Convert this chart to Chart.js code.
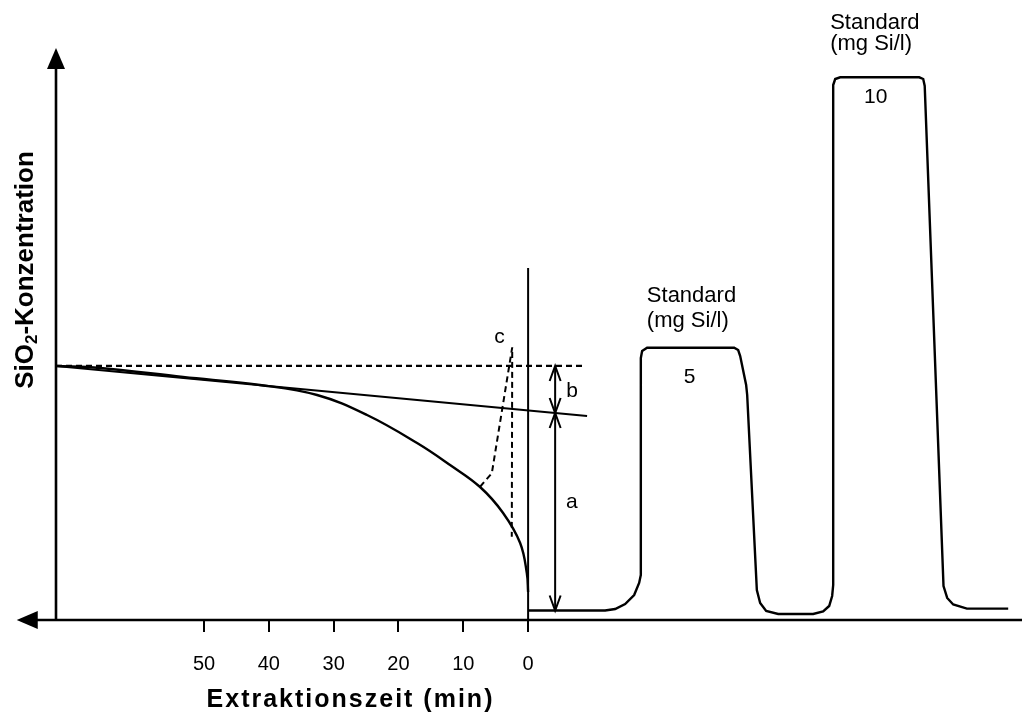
<!DOCTYPE html>
<html>
<head>
<meta charset="utf-8">
<script src="https://cdn.jsdelivr.net/npm/chart.js@4.4.1/dist/chart.umd.min.js"></script>
<style>
  html, body { margin: 0; padding: 0; background: #fff; }
</style>
</head>
<body>
<canvas id="chart" width="1025" height="716"></canvas>
<script>
// x = minutes before end of extraction (axis runs right-to-left), right of 0 = standards run
const xTicks = [0, 10, 20, 30, 40, 50];
const xLeftEnd = 78.9;   // where the left-pointing axis arrow ends

// extraction curve (relative SiO2 concentration)
const extraction = [
  [72.84, 44.41], [66.05, 44.06], [53.24, 42.48], [41.36, 41.08], [32.56, 39.34],
  [24.85, 35.84], [17.13, 30.94], [12.04, 27.10], [7.41, 23.25], [3.86, 18.71],
  [1.23, 13.46], [0.2, 8.2], [0, 4.9]
];
const tangent = [[72.84, 44.41], [-9.1, 35.66]];
const startLevel = [[72.84, 44.41], [-8.6, 44.41]];
const endLine = [[0, 0], [0, 61.54]];
const curveC = [[7.41, 23.3], [5.6, 25.64], [2.45, 47.67], [2.52, 14.56]];
const arrowB = [[-4.17, 44.41], [-4.17, 36.19]];
const arrowA = [[-4.17, 36.19], [-4.17, 1.66]];

// standards 5 and 10 mg Si/l
const standards = [
  [0, 1.66], [-11.88, 1.66], [-13.43, 1.92], [-14.97, 2.80], [-16.36, 4.37],
  [-17.13, 6.47], [-17.39, 7.87], [-17.39, 45.80], [-17.59, 47.03], [-18.36, 47.60],
  [-31.79, 47.60], [-32.41, 47.20], [-32.72, 46.15], [-33.64, 41.08], [-33.80, 39.34],
  [-35.29, 5.24], [-35.80, 2.97], [-36.73, 1.57], [-38.58, 1.05], [-43.98, 1.05],
  [-45.52, 1.49], [-46.45, 2.45], [-46.91, 4.20], [-47.07, 6.12], [-47.07, 93.53],
  [-47.38, 94.58], [-48.15, 94.88], [-60.34, 94.88], [-60.96, 94.58], [-61.19, 93.36],
  [-64.09, 5.94], [-64.66, 3.85], [-65.59, 2.71], [-67.70, 1.99], [-74.07, 1.99]
];

const notes = [
  { text: 'Standard', x: -18.32, y: 55.66, size: 22, align: 'left' },
  { text: '(mg Si/l)', x: -18.32, y: 51.28, size: 22, align: 'left' },
  { text: 'Standard', x: -46.6, y: 103.27, size: 22, align: 'left' },
  { text: '(mg Si/l)', x: -46.6, y: 99.65, size: 22, align: 'left' },
  { text: '5', x: -24.92, y: 41.43, size: 21, align: 'center' },
  { text: '10', x: -53.63, y: 90.33, size: 21, align: 'center' },
  { text: 'a', x: -6.74, y: 19.58, size: 21, align: 'center' },
  { text: 'b', x: -6.79, y: 38.99, size: 21, align: 'center' },
  { text: 'c', x: 4.40, y: 48.43, size: 21, align: 'center' }
];

const FONT = "'Liberation Sans', Arial, sans-serif";
const pts = arr => arr.map(([x, y]) => ({ x, y }));

function line(data, width, dash) {
  return {
    data: pts(data),
    showLine: true,
    borderColor: '#000',
    borderWidth: width,
    borderDash: dash || [],
    pointRadius: 0,
    fill: false,
    tension: 0
  };
}

const decor = {
  id: 'decor',
  afterDatasetsDraw(chart) {
    const { ctx, scales: { x, y } } = chart;
    const x0 = x.getPixelForValue(x.max);
    const y0 = y.getPixelForValue(0);
    ctx.save();
    ctx.strokeStyle = '#000';
    ctx.fillStyle = '#000';

    // axes with arrows
    ctx.lineWidth = 2.6;
    ctx.beginPath();
    ctx.moveTo(x.getPixelForValue(x.min), y0);
    ctx.lineTo(x.getPixelForValue(xLeftEnd) + 10, y0);
    ctx.stroke();
    const xl = x.getPixelForValue(xLeftEnd);
    ctx.beginPath();
    ctx.moveTo(xl, y0);
    ctx.lineTo(xl + 21, y0 - 9);
    ctx.lineTo(xl + 21, y0 + 9);
    ctx.closePath();
    ctx.fill();

    const yt = y.getPixelForValue(y.max);
    ctx.beginPath();
    ctx.moveTo(x0, y0);
    ctx.lineTo(x0, yt + 10);
    ctx.stroke();
    ctx.beginPath();
    ctx.moveTo(x0, yt);
    ctx.lineTo(x0 - 9, yt + 21);
    ctx.lineTo(x0 + 9, yt + 21);
    ctx.closePath();
    ctx.fill();

    // open arrow heads on a and b
    ctx.lineWidth = 2;
    [arrowA, arrowB].forEach(arr => {
      const p = arr.map(([vx, vy]) => [x.getPixelForValue(vx), y.getPixelForValue(vy)]);
      [[p[0], p[1]], [p[1], p[0]]].forEach(([tip, other]) => {
        const dir = tip[1] < other[1] ? 1 : -1;
        ctx.beginPath();
        ctx.moveTo(tip[0] - 5.5, tip[1] + dir * 15);
        ctx.lineTo(tip[0], tip[1]);
        ctx.lineTo(tip[0] + 5.5, tip[1] + dir * 15);
        ctx.stroke();
      });
    });

    // labels
    ctx.textBaseline = 'alphabetic';
    notes.forEach(n => {
      ctx.font = n.size + 'px ' + FONT;
      ctx.textAlign = n.align;
      ctx.fillText(n.text, x.getPixelForValue(n.x), y.getPixelForValue(n.y));
    });

    // x title
    ctx.font = 'bold 25px ' + FONT;
    ctx.textAlign = 'center';
    if ('letterSpacing' in ctx) ctx.letterSpacing = '2px';
    ctx.fillText('Extraktionszeit (min)', x.getPixelForValue(27.4), 707);
    if ('letterSpacing' in ctx) ctx.letterSpacing = '0px';

    // y title, rotated, with subscript
    ctx.translate(32.5, 270);
    ctx.rotate(-Math.PI / 2);
    ctx.textAlign = 'left';
    const big = 'bold 26px ' + FONT, small = 'bold 17px ' + FONT;
    ctx.font = big; const w1 = ctx.measureText('SiO').width;
    ctx.font = small; const w2 = ctx.measureText('2').width;
    ctx.font = big; const w3 = ctx.measureText('-Konzentration').width;
    let sx = -(w1 + w2 + w3) / 2;
    ctx.font = big; ctx.fillText('SiO', sx, 0); sx += w1;
    ctx.font = small; ctx.fillText('2', sx, 4); sx += w2;
    ctx.font = big; ctx.fillText('-Konzentration', sx, 0);
    ctx.restore();
  }
};

new Chart(document.getElementById('chart'), {
  type: 'scatter',
  data: {
    datasets: [
      line(startLevel, 2.2, [6, 4]),
      line(tangent, 2.2),
      { ...line(extraction, 2.4), tension: 0.4 },
      line(curveC, 2, [6, 4]),
      line(endLine, 2),
      line(arrowB, 2),
      line(arrowA, 2),
      line(standards, 2.4)
    ]
  },
  options: {
    responsive: false,
    animation: false,
    devicePixelRatio: 1,
    layout: { padding: { left: 56, right: 3, top: 48, bottom: 0 } },
    plugins: { legend: { display: false }, tooltip: { enabled: false } },
    scales: {
      x: {
        type: 'linear',
        reverse: true,
        min: -76.2,
        max: 72.84,
        afterBuildTicks: s => { s.ticks = xTicks.map(v => ({ value: v })); },
        afterFit: s => { s.height = 96; },
        ticks: {
          color: '#000',
          font: { family: FONT, size: 20 },
          padding: 20,
          maxRotation: 0,
          autoSkip: false,
          callback: v => String(v)
        },
        grid: { display: true, drawOnChartArea: false, drawTicks: true, tickLength: 12, color: '#000', lineWidth: 2 },
        border: { display: false }
      },
      y: { display: false, min: 0, max: 100 }
    }
  },
  plugins: [decor]
});
</script>
</body>
</html>
